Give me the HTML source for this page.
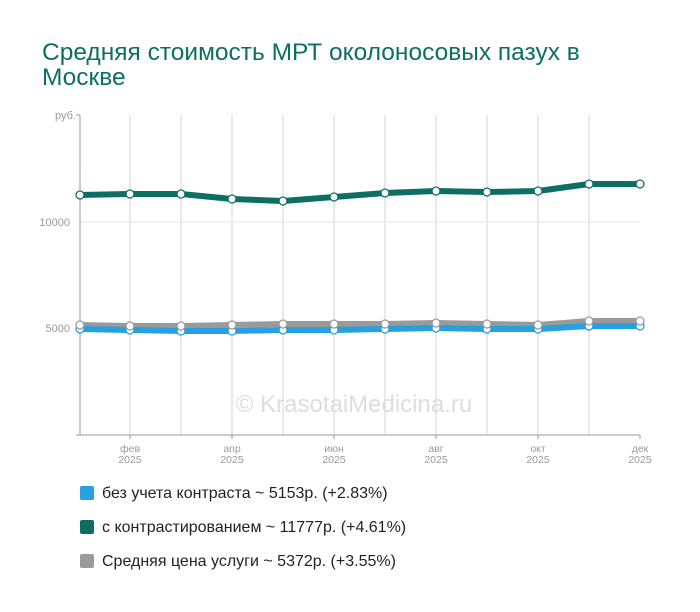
<!DOCTYPE html>
<html><head><meta charset="utf-8"><style>
body{margin:0;background:#fff;width:700px;height:612px;overflow:hidden;font-family:"Liberation Sans",sans-serif}
h1{position:absolute;left:42px;top:40px;margin:0;font-weight:normal;font-size:24.5px;line-height:25px;color:#0f6e63;width:560px}
.leg{position:absolute;left:80px;font-size:16px;color:#222}
.leg span{display:inline-block;width:14px;height:14px;border-radius:2px;vertical-align:-2px;margin-right:8px}
</style></head><body>
<h1>Средняя стоимость МРТ околоносовых пазух в Москве</h1>
<svg width="700" height="612" style="position:absolute;left:0;top:0">
<g stroke="#d4d4d4" stroke-width="1">
<line x1="130" y1="115" x2="130" y2="435"/><line x1="181" y1="115" x2="181" y2="435"/><line x1="232" y1="115" x2="232" y2="435"/><line x1="283" y1="115" x2="283" y2="435"/><line x1="334" y1="115" x2="334" y2="435"/><line x1="385" y1="115" x2="385" y2="435"/><line x1="436" y1="115" x2="436" y2="435"/><line x1="487" y1="115" x2="487" y2="435"/><line x1="538" y1="115" x2="538" y2="435"/><line x1="589" y1="115" x2="589" y2="435"/>
</g>
<line x1="80" y1="222" x2="640" y2="222" stroke="#e6e6e6"/>
<line x1="80" y1="328" x2="640" y2="328" stroke="#e6e6e6"/>
<line x1="80" y1="115" x2="80" y2="435" stroke="#999"/>
<line x1="80" y1="435" x2="640" y2="435" stroke="#999"/>
<g stroke="#999"><line x1="76" y1="115" x2="80" y2="115"/><line x1="76" y1="435" x2="80" y2="435"/><line x1="130" y1="435" x2="130" y2="439"/><line x1="232" y1="435" x2="232" y2="439"/><line x1="334" y1="435" x2="334" y2="439"/><line x1="436" y1="435" x2="436" y2="439"/><line x1="538" y1="435" x2="538" y2="439"/><line x1="640" y1="435" x2="640" y2="439"/></g>
<g font-size="11" fill="#999" text-anchor="end"><text x="76" y="119">руб.</text><text x="70" y="226">10000</text><text x="70" y="332">5000</text></g>
<g font-size="10.5" fill="#999" text-anchor="middle">
<text x="130" y="452">фев</text><text x="130" y="463">2025</text>
<text x="232" y="452">апр</text><text x="232" y="463">2025</text>
<text x="334" y="452">июн</text><text x="334" y="463">2025</text>
<text x="436" y="452">авг</text><text x="436" y="463">2025</text>
<text x="538" y="452">окт</text><text x="538" y="463">2025</text>
<text x="640" y="452">дек</text><text x="640" y="463">2025</text>
</g>
<text x="354" y="412" font-size="24" fill="#ddd" text-anchor="middle">© KrasotaiMedicina.ru</text>
<g fill="none" stroke-linejoin="round" stroke-width="6">
<polyline stroke="#9a9a9a" points="80,325 130,326 181,326 232,325 283,324 334,324 385,324 436,323 487,324 538,325 589,321 640,321"/>
<polyline stroke="#27a0e0" points="80,329 130,330 181,331 232,331 283,330 334,330 385,329 436,328 487,329 538,329 589,326 640,326"/>
<polyline stroke="#0f6e63" points="80,195 130,194 181,194 232,199 283,201 334,197 385,193 436,191 487,192 538,191 589,184 640,184"/>
</g>
<g fill="#fff" stroke-width="1.3">
<g stroke="#27a0e0"><circle cx="80" cy="329" r="4"/><circle cx="130" cy="330" r="4"/><circle cx="181" cy="331" r="4"/><circle cx="232" cy="331" r="4"/><circle cx="283" cy="330" r="4"/><circle cx="334" cy="330" r="4"/><circle cx="385" cy="329" r="4"/><circle cx="436" cy="328" r="4"/><circle cx="487" cy="329" r="4"/><circle cx="538" cy="329" r="4"/><circle cx="589" cy="326" r="4"/><circle cx="640" cy="326" r="4"/></g>
<g stroke="#9a9a9a"><circle cx="80" cy="325" r="4"/><circle cx="130" cy="326" r="4"/><circle cx="181" cy="326" r="4"/><circle cx="232" cy="325" r="4"/><circle cx="283" cy="324" r="4"/><circle cx="334" cy="324" r="4"/><circle cx="385" cy="324" r="4"/><circle cx="436" cy="323" r="4"/><circle cx="487" cy="324" r="4"/><circle cx="538" cy="325" r="4"/><circle cx="589" cy="321" r="4"/><circle cx="640" cy="321" r="4"/></g>
<g stroke="#0f6e63"><circle cx="80" cy="195" r="4"/><circle cx="130" cy="194" r="4"/><circle cx="181" cy="194" r="4"/><circle cx="232" cy="199" r="4"/><circle cx="283" cy="201" r="4"/><circle cx="334" cy="197" r="4"/><circle cx="385" cy="193" r="4"/><circle cx="436" cy="191" r="4"/><circle cx="487" cy="192" r="4"/><circle cx="538" cy="191" r="4"/><circle cx="589" cy="184" r="4"/><circle cx="640" cy="184" r="4"/></g>
</g>
</svg>
<div class="leg" style="top:485px"><span style="background:#27a0e0"></span>без учета контраста ~ 5153р. (+2.83%)</div>
<div class="leg" style="top:519px"><span style="background:#0f6e63"></span>с контрастированием ~ 11777р. (+4.61%)</div>
<div class="leg" style="top:553px"><span style="background:#9a9a9a"></span>Средняя цена услуги ~ 5372р. (+3.55%)</div>
</body></html>
